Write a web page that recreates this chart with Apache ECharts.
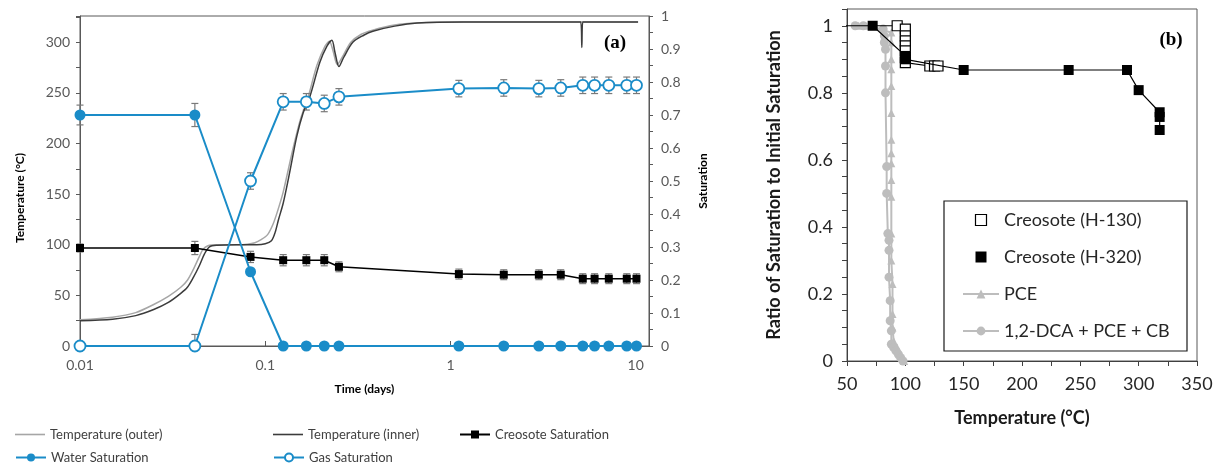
<!DOCTYPE html>
<html>
<head>
<meta charset="utf-8">
<script src="https://cdn.jsdelivr.net/npm/echarts@6/dist/echarts.min.js"></script>
<style>
html,body{margin:0;padding:0;background:#fff;}
#c{width:1224px;height:464px;}
</style>
</head>
<body>
<div id="c"></div>
<script>
// ---------- Panel (a) data ----------
const tOuterDays = [0.01,0.015,0.02,0.025,0.03,0.035,0.038,0.041,0.044,0.046,0.049,0.055,0.07,0.08,0.088,0.095,0.103,0.11,0.116,0.125,0.14,0.155,0.17,0.19,0.21,0.222,0.232,0.245,0.26,0.29,0.33,0.38,0.5,0.66,1.17,3,5,8,10.3];
const tOuter     = [26,28.5,33,41,49,58,65,76,88,95,99,100,100,100.5,102,105,110,120,132,152,192,224,245,277,296,301,292,278,285,300,308,312,317,319,320,320,320,320,320];
const tInnerDays = [0.01,0.015,0.02,0.025,0.03,0.035,0.038,0.041,0.044,0.047,0.05,0.055,0.07,0.09,0.1,0.108,0.113,0.118,0.125,0.135,0.148,0.16,0.174,0.197,0.215,0.229,0.238,0.25,0.265,0.297,0.34,0.381,0.5,0.66,1.17,3,5.05,5.12,5.18,8,10.3];
const tInner     = [25,26.5,30,36,43,52,58,68,79,91,98,99.5,100,100,101,104,112,125,141,170,207,230,246,280,296,302,290,276,285,300,307,311,316,319,320,320,320,295,320,320,320];

const satDays  = [0.01,0.0417,0.0833,0.125,0.1667,0.2083,0.25,1.11,1.94,3.0,3.94,5.18,6.0,7.16,8.95,10.1];
const water    = [0.70,0.70,0.225,0,0,0,0,0,0,0,0,0,0,0,0,0];
const waterErr = [0.03,0.035,0.01,0,0,0,0,0,0,0,0,0,0,0,0,0];
const gas      = [0,0,0.50,0.74,0.74,0.735,0.755,0.78,0.782,0.78,0.782,0.79,0.79,0.79,0.79,0.79];
const gasErr   = [0,0.035,0.025,0.025,0.025,0.025,0.025,0.025,0.025,0.025,0.025,0.025,0.025,0.025,0.025,0.025];
const creosote = [0.297,0.297,0.27,0.26,0.26,0.26,0.24,0.218,0.216,0.216,0.216,0.204,0.204,0.204,0.204,0.204];
const creoErr  = [0.012,0.02,0.017,0.017,0.017,0.017,0.015,0.015,0.015,0.015,0.015,0.015,0.015,0.015,0.015,0.015];

// ---------- Panel (b) data ----------
const h130Temp  = [48,93,100,100,100,100,100,100,100,121,125,128];
const h130Ratio = [1.0,1.0,0.99,0.97,0.955,0.94,0.925,0.905,0.89,0.88,0.88,0.88];
const h320Temp  = [72,100,100,150,240,290,300,318,318,318];
const h320Ratio = [1.0,0.91,0.90,0.868,0.868,0.868,0.808,0.742,0.728,0.689];
const pceTemp   = [60,66,88,88,88,88,88,88,88,88,88,88,88,88,88,89,89,89,90,93,95,97,99];
const pceRatio  = [1.0,1.0,0.98,0.95,0.90,0.87,0.82,0.74,0.66,0.62,0.59,0.54,0.49,0.38,0.30,0.23,0.14,0.10,0.06,0.04,0.02,0.01,0.0];
const dcaTemp   = [57,64,81,82,82,83,83,83,84,84,85,86,86,86,87,87,88,88,90,92,94,96,98];
const dcaRatio  = [1.0,1.0,0.99,0.97,0.95,0.93,0.88,0.80,0.58,0.50,0.38,0.36,0.33,0.25,0.18,0.12,0.09,0.05,0.04,0.03,0.02,0.01,0.0];

const zip = (a,b) => a.map((v,i)=>[v,b[i]]);
const errData = (vals, errs) => satDays.map((d,i)=>[d, Math.max(0, vals[i]-errs[i]), vals[i]+errs[i], errs[i]]);

function errRender(params, api){
  if (api.value(3) === 0) return null;
  const x = api.value(0);
  const p1 = api.coord([x, api.value(1)]);
  const p2 = api.coord([x, api.value(2)]);
  const w = 3.5, st = {stroke:'#7a7a7a', lineWidth:1.2};
  return {type:'group', children:[
    {type:'line', shape:{x1:p1[0],y1:p1[1],x2:p2[0],y2:p2[1]}, style:st},
    {type:'line', shape:{x1:p1[0]-w,y1:p1[1],x2:p1[0]+w,y2:p1[1]}, style:st},
    {type:'line', shape:{x1:p2[0]-w,y1:p2[1],x2:p2[0]+w,y2:p2[1]}, style:st}
  ]};
}

const F = 'Lato, "Open Sans", sans-serif';
const BLUE = '#1a8cc8';
const GRAY = '#bdbdbd';
const SQ = 'path://M0,0L10,0L10,10L0,10Z';
const LINEICON = 'path://M0,0L30,0L30,1.6L0,1.6Z';

const chart = echarts.init(document.getElementById('c'), null, {renderer:'canvas'});

const leftLegendBase = {orient:'horizontal', padding:0, itemWidth:30, itemHeight:10, itemGap:10,
  symbolKeepAspect:true,
  textStyle:{fontFamily:F, fontSize:13, color:'#404040'}, selectedMode:false};

chart.setOption({
  animation:false,
  backgroundColor:'#fff',
  grid:[
    {left:80, right:575, top:16, bottom:118, show:true, borderColor:'#595959', borderWidth:1},
    {left:847, right:27, top:9, bottom:103, show:true, borderColor:'#595959', borderWidth:1}
  ],
  xAxis:[
    {type:'log', gridIndex:0, min:0.01, max:11.8, logBase:10,
     name:'Time (days)', nameLocation:'middle', nameGap:37,
     nameTextStyle:{fontFamily:F, fontSize:12, fontWeight:'bold', color:'#000'},
     axisLine:{lineStyle:{color:'#595959'}},
     axisTick:{inside:true, length:5, lineStyle:{color:'#595959'}},
     axisLabel:{fontFamily:F, fontSize:14, color:'#595959', margin:12, showMaxLabel:false,
       formatter: v => (v>=11 ? '' : String(+v.toPrecision(3)))},
     splitLine:{show:false}},
    {type:'value', gridIndex:1, min:50, max:350, interval:50,
     name:'Temperature (°C)', nameLocation:'middle', nameGap:48,
     nameTextStyle:{fontFamily:F, fontSize:18, fontWeight:'bold', color:'#1a1a1a'},
     axisLine:{lineStyle:{color:'#404040'}},
     axisTick:{length:5, lineStyle:{color:'#404040'}},
     minorTick:{show:true, splitNumber:2, length:5, lineStyle:{color:'#404040'}},
     axisLabel:{fontFamily:F, fontSize:18, color:'#262626', margin:14},
     splitLine:{show:false}}
  ],
  yAxis:[
    {type:'value', gridIndex:0, min:0, max:326, interval:50,
     name:'Temperature (°C)', nameLocation:'middle', nameGap:54,
     nameTextStyle:{fontFamily:F, fontSize:12, fontWeight:'bold', color:'#000', padding:[0,34,0,0]},
     axisLine:{show:true, lineStyle:{color:'#595959'}},
     axisTick:{length:4, lineStyle:{color:'#595959'}},
     minorTick:{show:true, splitNumber:2, length:4, lineStyle:{color:'#595959'}},
     axisLabel:{fontFamily:F, fontSize:14, color:'#595959', margin:10, showMaxLabel:false},
     splitLine:{show:false}},
    {type:'value', gridIndex:0, position:'right', min:0, max:1, interval:0.1,
     name:'Saturation', nameLocation:'middle', nameGap:48,
     nameTextStyle:{fontFamily:F, fontSize:12, fontWeight:'bold', color:'#000'},
     axisLine:{show:true, lineStyle:{color:'#595959'}},
     axisTick:{length:4, lineStyle:{color:'#595959'}},
     minorTick:{show:true, splitNumber:2, length:4, lineStyle:{color:'#595959'}},
     axisLabel:{fontFamily:F, fontSize:14, color:'#595959', margin:12},
     splitLine:{show:false}},
    {type:'value', gridIndex:1, min:0, max:1.05, interval:0.2,
     name:'Ratio of Saturation to Initial Saturation', nameLocation:'middle', nameGap:64,
     nameTextStyle:{fontFamily:F, fontSize:18, fontWeight:'bold', color:'#1a1a1a'},
     axisLine:{show:true, lineStyle:{color:'#404040'}},
     axisTick:{length:5, lineStyle:{color:'#404040'}},
     minorTick:{show:true, splitNumber:4, length:5, lineStyle:{color:'#404040'}},
     axisLabel:{fontFamily:F, fontSize:18, color:'#262626', margin:14, showMaxLabel:false},
     splitLine:{show:false}}
  ],
  legend:[
    Object.assign({}, leftLegendBase, {left:15, top:428, data:[{name:'Temperature (outer)', icon:LINEICON}]}),
    Object.assign({}, leftLegendBase, {left:273, top:428, data:[{name:'Temperature (inner)', icon:LINEICON}]}),
    Object.assign({}, leftLegendBase, {left:459, top:428, data:['Creosote Saturation']}),
    Object.assign({}, leftLegendBase, {left:15, top:451, data:['Water Saturation']}),
    Object.assign({}, leftLegendBase, {left:273, top:451, data:['Gas Saturation']}),
    {orient:'vertical', left:962, top:211, padding:0, itemWidth:36, itemHeight:11, itemGap:19, selectedMode:false,
     symbolKeepAspect:true,
     textStyle:{fontFamily:F, fontSize:18, color:'#262626'},
     data:[
       {name:'Creosote (H-130)', icon:SQ, itemStyle:{color:'#fff', borderColor:'#000', borderWidth:1.2}},
       {name:'Creosote (H-320)', icon:SQ, itemStyle:{color:'#000', borderColor:'#000', borderWidth:0}},
       'PCE',
       '1,2-DCA + PCE + CB'
     ]}
  ],
  graphic:[
    {type:'text', x:615, y:43, z:10, style:{text:'(a)', font:'bold 19px "Liberation Serif", serif', fill:'#000', align:'center', verticalAlign:'middle'}},
    {type:'text', x:1171, y:40, z:10, style:{text:'(b)', font:'bold 19px "Liberation Serif", serif', fill:'#000', align:'center', verticalAlign:'middle'}},
    {type:'rect', shape:{x:944, y:201, width:243, height:150}, z:0, style:{fill:'#fff', stroke:'#1a1a1a', lineWidth:1.2}}
  ],
  series:[
    {name:'Temperature (outer)', type:'line', xAxisIndex:0, yAxisIndex:0, symbol:'none', smooth:0.3,
     color:'#a6a6a6', lineStyle:{color:'#a6a6a6', width:1.5}, itemStyle:{color:'#a6a6a6'}, data:zip(tOuterDays, tOuter), z:2},
    {name:'Temperature (inner)', type:'line', xAxisIndex:0, yAxisIndex:0, symbol:'none', smooth:0.3,
     color:'#3c3c3c', lineStyle:{color:'#3c3c3c', width:1.5}, itemStyle:{color:'#3c3c3c'}, data:zip(tInnerDays, tInner), z:3},
    {name:'creoErr', type:'custom', xAxisIndex:0, yAxisIndex:1, renderItem:errRender, encode:{x:0, y:[1,2]}, data:errData(creosote, creoErr), z:3},
    {name:'waterErr', type:'custom', xAxisIndex:0, yAxisIndex:1, renderItem:errRender, encode:{x:0, y:[1,2]}, data:errData(water, waterErr), z:3},
    {name:'gasErr', type:'custom', xAxisIndex:0, yAxisIndex:1, renderItem:errRender, encode:{x:0, y:[1,2]}, data:errData(gas, gasErr), z:3},
    {name:'Creosote Saturation', type:'line', xAxisIndex:0, yAxisIndex:1, symbol:'rect', symbolSize:8,
     color:'#000', lineStyle:{color:'#000', width:1.5}, itemStyle:{color:'#000'}, data:zip(satDays, creosote), z:4},
    {name:'Water Saturation', type:'line', xAxisIndex:0, yAxisIndex:1, symbol:'circle', symbolSize:11,
     color:BLUE, lineStyle:{color:BLUE, width:2}, itemStyle:{color:BLUE}, data:zip(satDays, water), z:5},
    {name:'Gas Saturation', type:'line', xAxisIndex:0, yAxisIndex:1, symbol:'circle', symbolSize:11,
     color:BLUE, lineStyle:{color:BLUE, width:2}, itemStyle:{color:'#fff', borderColor:BLUE, borderWidth:1.8}, data:zip(satDays, gas), z:5},

    {name:'PCE', type:'line', xAxisIndex:1, yAxisIndex:2, symbol:'triangle', symbolSize:8,
     color:GRAY, lineStyle:{color:GRAY, width:2}, itemStyle:{color:GRAY}, data:zip(pceTemp, pceRatio), z:2},
    {name:'1,2-DCA + PCE + CB', type:'line', xAxisIndex:1, yAxisIndex:2, symbol:'circle', symbolSize:9,
     color:GRAY, lineStyle:{color:GRAY, width:2}, itemStyle:{color:GRAY}, data:zip(dcaTemp, dcaRatio), z:2},
    {name:'Creosote (H-130)', type:'line', xAxisIndex:1, yAxisIndex:2, symbol:'rect', symbolSize:10,
     color:'#000', lineStyle:{color:'#000', width:1.2}, itemStyle:{color:'#fff', borderColor:'#000', borderWidth:1.2}, data:zip(h130Temp, h130Ratio), z:3},
    {name:'Creosote (H-320)', type:'line', xAxisIndex:1, yAxisIndex:2, symbol:'rect', symbolSize:10,
     color:'#000', lineStyle:{color:'#000', width:1.2}, itemStyle:{color:'#000'}, data:zip(h320Temp, h320Ratio), z:4}
  ]
});
</script>
</body>
</html>
